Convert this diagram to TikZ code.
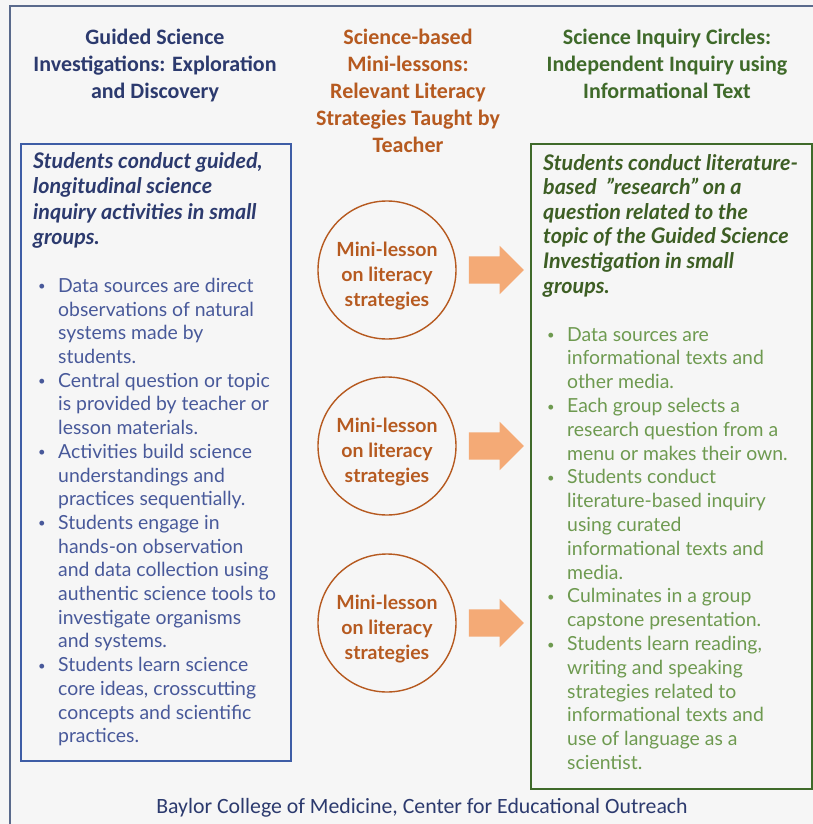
\documentclass[tikz,border=0pt]{standalone}
\usepackage{fontspec}
\setmainfont{Lato}
\newfontfamily\titrefont{Carlito}
\usetikzlibrary{positioning, shapes.arrows}
\definecolor{fond}{HTML}{F6F6F6}
\definecolor{cadre}{HTML}{5A6A8C}
\definecolor{marine}{HTML}{2C3A6E}
\definecolor{bleu}{HTML}{3E5DA6}
\definecolor{bleuclair}{HTML}{48599A}
\definecolor{brique}{HTML}{B65A20}
\definecolor{saumon}{HTML}{F4AA76}
\definecolor{vert}{HTML}{3F6A2A}
\definecolor{vertfonce}{HTML}{3D5E24}
\definecolor{vertclair}{HTML}{6E9A50}
% puce et retrait des lignes suivantes
\newcommand{\puce}{\makebox[21pt][l]{\hspace{1pt}\raisebox{1.5pt}{\fontsize{13}{13}\selectfont\textbullet}}}
\newcommand{\suite}{\hspace*{21pt}}
\tikzset{
  titre/.style={font=\titrefont\fontsize{22}{27}\selectfont\bfseries,
    align=center, inner sep=0pt, anchor=north},
  colonne/.style={rectangle, line width=1.6pt, fill=fond, anchor=north west,
    inner sep=0pt},
  chapeau/.style={font=\fontsize{21.5}{25.5}\selectfont\bfseries\itshape,
    align=left, inner sep=0pt, anchor=north west},
  liste/.style={font=\fontsize{19.4}{23.7}\selectfont, align=left,
    inner sep=0pt, anchor=north west},
  cercle/.style={circle, draw=brique, line width=1.4pt, minimum size=138pt,
    inner sep=0pt},
  mini/.style={text=brique, font=\fontsize{19.5}{25}\selectfont\bfseries,
    align=center, inner sep=0pt},
  fleche/.style={single arrow, fill=saumon, draw=none, minimum height=55pt,
    single arrow head extend=10.5pt, single arrow head indent=0pt,
    inner xsep=0pt, inner ysep=13.5pt}
}

\begin{document}
\begin{tikzpicture}[x=1pt, y=-1pt]
  \useasboundingbox (0,0) rectangle (813,824);
  \fill[fond] (0,0) rectangle (813,824);
  \draw[cadre, line width=1.5pt] (10,6) rectangle (830,840);

  % titres des trois colonnes
  \node[titre, text=marine] (t1) at (155,29) {Guided Science\\ Investigations: Exploration\\ and Discovery};
  \node[titre, text=brique] (t2) at (408,29) {Science-based\\ Mini-lessons:\\ Relevant Literacy\\ Strategies Taught by\\ Teacher};
  \node[titre, text=vert] (t3) at (667,29) {Science Inquiry Circles:\\ Independent Inquiry using\\ Informational Text};

  % colonne de gauche
  \node[colonne, draw=bleu, minimum width=270pt, minimum height=617pt] (gauche) at (20,143) {};
  \node[chapeau, text=marine] (chg) at (33,152) {Students conduct guided,\\ longitudinal science\\ inquiry activities in small\\ groups.};
  \node[liste, text=bleuclair] (lg) at (37,278) {%
    \puce Data sources are direct\\ \suite observations of natural\\ \suite systems made by\\ \suite students.\\
    \puce Central question or topic\\ \suite is provided by teacher or\\ \suite lesson materials.\\
    \puce Activities build science\\ \suite understandings and\\ \suite practices sequentially.\\
    \puce Students engage in\\ \suite hands-on observation\\ \suite and data collection using\\ \suite authentic science tools to\\ \suite investigate organisms\\ \suite and systems.\\
    \puce Students learn science\\ \suite core ideas, crosscutting\\ \suite concepts and scientific\\ \suite practices.};

  % mini-lecons
  \foreach \i/\y in {1/270, 2/446, 3/623} {
    \node[cercle] (c\i) at (387,\y) {};
    \node[mini] (e\i) at ([yshift=-6pt]c\i.center) {Mini-lesson\\ on literacy\\ strategies};
    \node[fleche, right=12pt of c\i] (f\i) {};
  }

  % colonne de droite
  \node[colonne, draw=vert, minimum width=281pt, minimum height=645pt] (droite) at (530,143) {};
  \node[chapeau, text=vertfonce, font=\fontsize{21.5}{24.6}\selectfont\bfseries\itshape] (chd) at (543,154) {Students conduct literature-\\ based \ ”research” on a\\ question related to the\\ topic of the Guided Science\\ Investigation in small\\ groups.};
  \node[liste, text=vertclair, font=\fontsize{19.4}{23.8}\selectfont] (ld) at (546,327) {%
    \puce Data sources are\\ \suite informational texts and\\ \suite other media.\\
    \puce Each group selects a\\ \suite research question from a\\ \suite menu or makes their own.\\
    \puce Students conduct\\ \suite literature-based inquiry\\ \suite using curated\\ \suite informational texts and\\ \suite media.\\
    \puce Culminates in a group\\ \suite capstone presentation.\\
    \puce Students learn reading,\\ \suite writing and speaking\\ \suite strategies related to\\ \suite informational texts and\\ \suite use of language as a\\ \suite scientist.};

  % pied de page
  \node[font=\titrefont\fontsize{21.8}{24}\selectfont, text=marine, anchor=base, inner sep=0pt] (pied) at (422,813) {Baylor College of Medicine, Center for Educational Outreach};
\end{tikzpicture}
\end{document}
